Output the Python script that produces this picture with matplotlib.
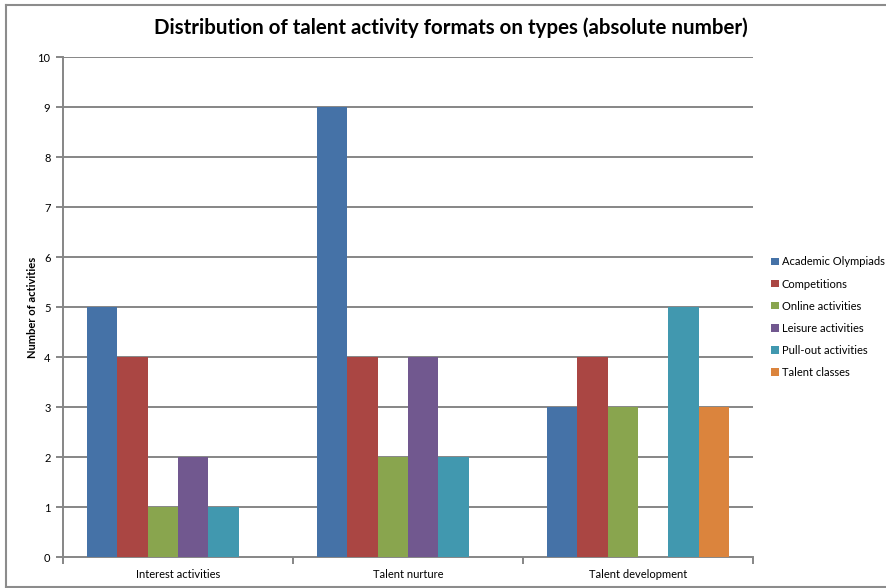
import matplotlib
matplotlib.use("Agg")
import matplotlib.pyplot as plt
from matplotlib.lines import Line2D
from matplotlib.patches import Patch
import numpy as np

plt.rcParams['font.family'] = ['Lato', 'DejaVu Sans']

categories = ['Interest activities', 'Talent nurture', 'Talent development']
series_names = ['Academic Olympiads', 'Competitions', 'Online activities',
                'Leisure activities', 'Pull-out activities', 'Talent classes']
academic = [5, 9, 3]
competitions = [4, 4, 4]
online = [1, 2, 3]
leisure = [2, 4, 0]
pullout = [1, 2, 5]
talent_classes = [0, 0, 3]
series_values = [academic, competitions, online, leisure, pullout, talent_classes]
colors = ['#4572A7', '#AA4643', '#89A54E', '#71588F', '#4198AF', '#DB843D']
yticks = list(range(0, 11))

W, H = 886, 588
fig = plt.figure(figsize=(W / 100, H / 100), dpi=100)

# outer chart frame (left, top, bottom edges)
frame_col = '#8c8c8c'
fig.add_artist(Line2D([6 / W, 6 / W], [1 - 5 / H, 1 - 587 / H], color=frame_col, lw=1.5))
fig.add_artist(Line2D([6 / W, 1], [1 - 5 / H, 1 - 5 / H], color=frame_col, lw=1.5))
fig.add_artist(Line2D([6 / W, 1], [1 - 587 / H, 1 - 587 / H], color=frame_col, lw=1.5))

ax = fig.add_axes([63 / W, (H - 557) / H, 690 / W, 500 / H])

x = np.arange(len(categories))
n = len(series_names)
gap = 0.21
bw = (1 - gap) / n
for i, (name, vals) in enumerate(zip(series_names, series_values)):
    pos = x - 0.5 + gap / 2 + bw * (i + 0.5)
    ax.bar(pos, vals, width=bw, color=colors[i], label=name, zorder=3)

grid_col = '#868686'
ax.set_xlim(-0.5, len(categories) - 0.5)
ax.set_ylim(0, 10)
ax.set_yticks(yticks)
ax.set_yticklabels([str(t) for t in yticks], fontsize=8)
for t in yticks[1:]:
    ax.axhline(t, color=grid_col, lw=1.4, zorder=1)

ax.set_xticks(np.arange(len(categories) + 1) - 0.5)
ax.set_xticklabels([])
ax.set_xticks(x, minor=True)
ax.set_xticklabels(categories, minor=True, fontsize=8)
ax.tick_params(axis='x', which='minor', length=0, pad=9)
ax.tick_params(axis='x', which='major', length=5, color=grid_col, width=1.4)
ax.tick_params(axis='y', length=5, color=grid_col, width=1.4, pad=4)

for side in ['top', 'right']:
    ax.spines[side].set_visible(False)
for side in ['left', 'bottom']:
    ax.spines[side].set_color(grid_col)
    ax.spines[side].set_linewidth(1.4)

ax.set_ylabel('Number of activities', fontsize=8, fontweight='bold', labelpad=0)

fig.text(451 / W, 1 - 28 / H,
         'Distribution of talent activity formats on types (absolute number)',
         ha='center', va='center', fontsize=14.8, fontweight='bold')

handles = [Patch(facecolor=c, label=s) for c, s in zip(colors, series_names)]
fig.legend(handles=handles, loc='upper left', bbox_to_anchor=(767 / W, 1 - 252 / H),
           frameon=False, fontsize=8, handlelength=0.65, handleheight=0.65,
           handletextpad=0.3, labelspacing=1.0, borderaxespad=0)

fig.savefig('out.png', dpi=100)
